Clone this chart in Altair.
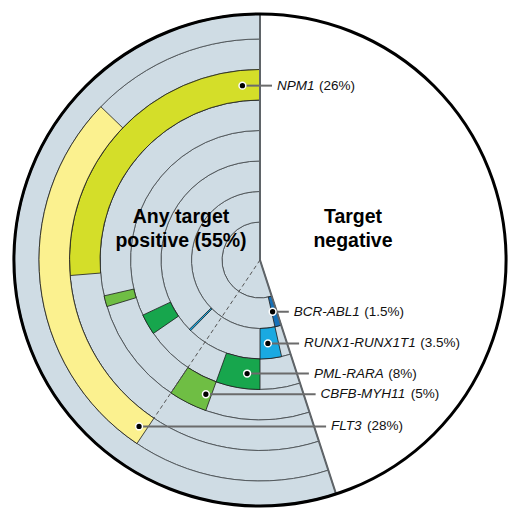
import math

import altair as alt
import numpy as np
import pandas as pd


# shares of patients, in % (clockwise from 12 o'clock)
negative_share = 45
positive_share = 55

genes = ["BCR-ABL1", "RUNX1-RUNX1T1", "PML-RARA", "CBFB-MYH11", "NPM1", "FLT3"]
gene_share = ["1.5%", "3.5%", "8%", "5%", "26%", "28%"]
gene_ring = [0, 1, 2, 3, 4, 5]
gene_colors = ["#1570b8", "#1aa9e1", "#17a64d", "#6fbe44", "#d4de29", "#fbf18f"]

# coloured arcs: gene, from %, to %
seg_gene = ["BCR-ABL1", "RUNX1-RUNX1T1", "RUNX1-RUNX1T1", "PML-RARA", "PML-RARA",
            "CBFB-MYH11", "CBFB-MYH11", "NPM1", "FLT3"]
seg_from = [45.0, 46.5, 62.35, 50.0, 65.4, 55.5, 70.3, 73.7, 59.4]
seg_to = [46.5, 50.0, 62.65, 55.5, 68.0, 59.4, 71.4, 100.0, 87.2]

# where each gene's pointer dot sits, % around
pointer_at = [46.2, 48.5, 51.8, 56.1, 98.4, 60.0]
flt3_start = 59.4

# ---- layout ----
W, H = 504, 496
CX, CY = 252, 248
PX = 30.5        # pixels per ring width
HOLE = 1.246     # empty centre, in ring widths
R_OUT = 246
OUTER = R_OUT / PX - HOLE
FONT = "Liberation Sans"
LABEL_SIZE = 13.5

# arial advance widths /1000, for placing the upright "(x%)" after the italic name
CHAR_W = {"N": 722, "P": 667, "M": 833, "1": 556, "B": 667, "C": 722, "R": 722,
          "-": 333, "A": 667, "L": 556, "U": 722, "X": 667, "T": 611, "F": 611,
          "H": 722, "Y": 667, "3": 556}


def to_xy(pct, ring):
    a = np.asarray(pct, dtype=float) / 100 * 2 * np.pi
    r = np.asarray(ring, dtype=float) + HOLE
    return r * np.sin(a), r * np.cos(a)


theta_scale = alt.Scale(domain=[0, 100], range=[0, 2 * math.pi])
radius_scale = alt.Scale(type="linear", domain=[-HOLE, OUTER], range=[0, R_OUT])
x_scale = alt.Scale(domain=[-CX / PX, (W - CX) / PX], nice=False, zero=False)
y_scale = alt.Scale(domain=[-(H - CY) / PX, CY / PX], nice=False, zero=False)


def arc_enc(**kw):
    return dict(
        theta=alt.Theta("t0:Q", scale=theta_scale, stack=None),
        theta2="t1:Q",
        radius=alt.Radius("r1:Q", scale=radius_scale),
        radius2="r0:Q",
        x=alt.value(CX),
        y=alt.value(CY),
        **kw,
    )


# grey rings over the positive share
inner = [-HOLE] + list(range(0, 7))
outer = list(range(0, 7)) + [OUTER]
bands = pd.DataFrame({"t0": negative_share, "t1": 100, "r0": inner, "r1": outer})
band_layer = alt.Chart(bands).mark_arc(
    fill="#cfdce4", stroke="#4d5256", strokeWidth=0.9
).encode(**arc_enc())

ring_of = dict(zip(genes, gene_ring))
segs = pd.DataFrame({"gene": seg_gene, "t0": seg_from, "t1": seg_to})
segs["r0"] = segs["gene"].map(ring_of)
segs["r1"] = segs["r0"] + 1
seg_layer = alt.Chart(segs).mark_arc(stroke="#1a1a1a", strokeWidth=0.8).encode(
    **arc_enc(color=alt.Color("gene:N", scale=alt.Scale(domain=genes, range=gene_colors),
                              legend=None))
)

sector = pd.DataFrame({"t0": [negative_share], "t1": [100], "r0": [-HOLE], "r1": [OUTER]})
sector_layer = alt.Chart(sector).mark_arc(
    fill="white", fillOpacity=0, stroke="#5f6468", strokeWidth=2
).encode(**arc_enc())

circle = pd.DataFrame({"t0": [0], "t1": [100], "r0": [-HOLE], "r1": [OUTER]})
circle_layer = alt.Chart(circle).mark_arc(
    fill="white", fillOpacity=0, stroke="black", strokeWidth=3
).encode(**arc_enc())

# dashed divider from the centre to the start of FLT3
dx, dy = to_xy([flt3_start], [ring_of["FLT3"]])
divider = pd.DataFrame({"x": [0.0], "y": [0.0], "x2": dx, "y2": dy})
divider_layer = alt.Chart(divider).mark_rule(
    color="#555", strokeWidth=1, strokeDash=[4, 3]
).encode(
    x=alt.X("x:Q", scale=x_scale, axis=None),
    y=alt.Y("y:Q", scale=y_scale, axis=None),
    x2="x2:Q", y2="y2:Q",
)

# pointers and labels
px, py = to_xy(pointer_at, np.array(gene_ring) + 0.5)
edge = math.tan(math.pi - negative_share / 100 * 2 * math.pi)
label_x = np.where(py < 0, -py * edge, 0) + 17 / PX
name_w = [sum(CHAR_W[c] for c in g) * LABEL_SIZE / 1000 for g in genes]
labels = pd.DataFrame({
    "gene": genes,
    "pct": ["(" + s + ")" for s in gene_share],
    "x": px, "y": py,
    "lx": label_x,
    "lend": label_x - 5 / PX,
    "px": label_x + (np.array(name_w) + 4.5) / PX,
})

base = alt.Chart(labels)
lx_enc = dict(y=alt.Y("y:Q", scale=y_scale, axis=None))
leader_layer = base.mark_rule(color="#6b6b6b", strokeWidth=2).encode(
    x=alt.X("x:Q", scale=x_scale, axis=None), x2="lend:Q", **lx_enc
)
dot_layer = base.mark_circle(size=46, fill="black", stroke="white",
                             strokeWidth=1.5, opacity=1).encode(
    x=alt.X("x:Q", scale=x_scale, axis=None), **lx_enc
)
name_layer = base.mark_text(
    align="left", baseline="middle", font=FONT, fontSize=LABEL_SIZE,
    fontStyle="italic", color="#111"
).encode(x=alt.X("lx:Q", scale=x_scale, axis=None), text="gene:N", **lx_enc)
pct_layer = base.mark_text(
    align="left", baseline="middle", font=FONT, fontSize=LABEL_SIZE, color="#111"
).encode(x=alt.X("px:Q", scale=x_scale, axis=None), text="pct:N", **lx_enc)

# the two big headings (first line sits on the anchor, second line below)
heads = pd.DataFrame({
    "text": ["Any target\npositive (" + str(positive_share) + "%)", "Target\nnegative"],
    "x": [-79 / PX, 93 / PX],
    "y": [43 / PX, 43 / PX],
})
head_layer = alt.Chart(heads).mark_text(
    align="center", baseline="middle", font=FONT, fontSize=19.5, fontWeight="bold",
    lineBreak="\n", lineHeight=24, color="black"
).encode(
    x=alt.X("x:Q", scale=x_scale, axis=None),
    y=alt.Y("y:Q", scale=y_scale, axis=None),
    text="text:N",
)

chart = alt.layer(
    band_layer, seg_layer, sector_layer, circle_layer, divider_layer,
    leader_layer, dot_layer, name_layer, pct_layer, head_layer,
).properties(
    width=W, height=H, padding=0, background="white"
).configure_view(stroke=None)

chart.save("out.html", embed_options={"renderer": "svg", "actions": False})
